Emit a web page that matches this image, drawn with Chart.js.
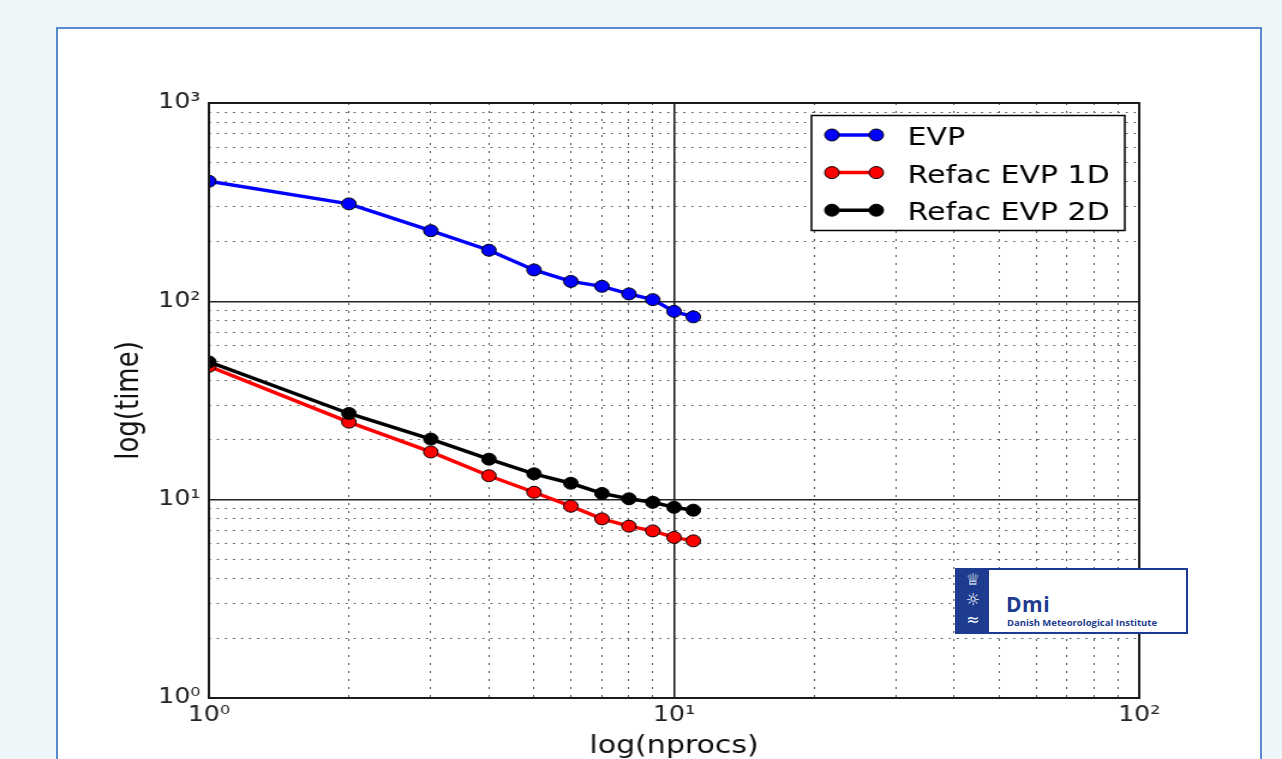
<!DOCTYPE html>
<html>
<head>
<meta charset="utf-8">
<title>EVP scaling</title>
<script src="https://cdn.jsdelivr.net/npm/chart.js@4.4.1/dist/chart.umd.min.js"></script>
<style>
    html, body { margin: 0; padding: 0; width: 1282px; height: 759px; overflow: hidden; background: #eff6f9; }
    #panel { position: absolute; left: 56px; top: 27px; width: 1206px; height: 760px; box-sizing: border-box; background: #fff; border: 2px solid #5a8bd0; }
    /* the original picture is stretched sideways, so the canvas is too */
    #wrap { position: absolute; left: 0; top: 0; width: 1068px; height: 759px; transform: scaleX(1.2004); transform-origin: 0 0; }
    #dmi { position: absolute; left: 955px; top: 568px; width: 233px; height: 66px; box-sizing: border-box; border: 2px solid #1d3c8f; background: #fff; }
    #dmi .strip { position: absolute; left: 0; top: 0; width: 32px; height: 100%; background: #1d3c8f; color: #fff; font-family: "DejaVu Sans"; text-align: center; }
    #dmi .strip span { display: block; font-size: 16px; line-height: 20px; }
    #dmi .big { position: absolute; left: 49px; top: 20px; color: #1d3c8f; font: bold 21px "Open Sans"; letter-spacing: 0.5px; }
    #dmi .small { position: absolute; left: 50px; top: 46px; color: #1d3c8f; font: bold 9.5px "Open Sans"; white-space: nowrap; }
</style>
</head>
<body>
<div id="panel"></div>
<div id="wrap"><canvas id="scalingChart" width="1068" height="759"></canvas></div>
<div id="dmi">
    <div class="strip"><span>♕</span><span>☼</span><span>≈</span></div>
    <div class="big">Dmi</div>
    <div class="small">Danish Meteorological Institute</div>
</div>
<script>
// data
const nprocs = [1, 2, 3, 4, 5, 6, 7, 8, 9, 10, 11];
const evp = [403, 310, 227, 181, 144, 126, 119, 109, 102, 89, 83.5];
const refac1d = [47, 24.6, 17.4, 13.2, 10.9, 9.27, 8.0, 7.35, 6.96, 6.45, 6.2];
const refac2d = [49.5, 27.2, 20.2, 16.0, 13.5, 12.1, 10.75, 10.1, 9.7, 9.15, 8.85];
const seriesNames = ['EVP', 'Refac EVP 1D', 'Refac EVP 2D'];

// tick positions (decades get a label)
const xTicks = [1, 2, 3, 4, 5, 6, 7, 8, 9, 10, 20, 30, 40, 50, 60, 70, 80, 90, 100];
const yTicks = [1, 2, 3, 4, 5, 6, 7, 8, 9, 10, 20, 30, 40, 50, 60, 70, 80, 90,
    100, 200, 300, 400, 500, 600, 700, 800, 900, 1000];
const superscripts = ['⁰', '¹', '²', '³'];

function isDecade(v) {
    const e = Math.log10(v);
    return Math.abs(e - Math.round(e)) < 1e-9;
}

function decadeLabel(v) {
    return isDecade(v) ? '10' + superscripts[Math.round(Math.log10(v))] : '';
}

function points(ys) {
    return nprocs.map((x, i) => ({ x: x, y: ys[i] }));
}

const tickFont = { family: 'DejaVu Sans', size: 21 };

function logAxis(tickValues, min, max) {
    return {
        type: 'logarithmic',
        min: min,
        max: max,
        afterBuildTicks: scale => { scale.ticks = tickValues.map(v => ({ value: v })); },
        ticks: { autoSkip: false, maxRotation: 0, color: '#222', font: tickFont, callback: v => decadeLabel(v) },
        grid: {
            drawTicks: false,
            color: c => (c.tick && isDecade(c.tick.value)) ? '#222' : '#555',
            lineWidth: c => (c.tick && isDecade(c.tick.value)) ? 1.6 : 1
        },
        border: { display: false }
    };
}

const xAxis = logAxis(xTicks, 1, 100);
xAxis.afterFit = scale => { scale.height = 61; };
xAxis.ticks.padding = 5;
xAxis.border.dash = c => (c.tick && !isDecade(c.tick.value)) ? [2, 6] : [];
xAxis.title = { display: true, text: 'log(nprocs)', color: '#111', font: { family: 'DejaVu Sans', size: 25, lineHeight: 1 }, padding: { top: 0, bottom: 0 } };

const yAxis = logAxis(yTicks, 1, 1000);
yAxis.afterFit = scale => { scale.width = 94; };
yAxis.ticks.padding = 7;
yAxis.border.dash = c => (c.tick && !isDecade(c.tick.value)) ? [1.7, 5] : [];
yAxis.title = { display: true, text: 'log(time)', color: '#111', font: { family: 'DejaVu Sans', size: 26 }, padding: { top: 13, bottom: 0 } };

// axes frame + matplotlib style legend inside the plot
const frameLegend = {
    id: 'frameLegend',
    afterDraw(chart) {
        const { ctx, chartArea: a } = chart;
        ctx.save();
        ctx.strokeStyle = '#1a1a1a';
        ctx.lineWidth = 2;
        ctx.strokeRect(a.left, a.top, a.right - a.left, a.bottom - a.top);

        ctx.fillStyle = '#fff';
        ctx.fillRect(676, 115.5, 261, 115);
        ctx.lineWidth = 1.5;
        ctx.strokeStyle = '#000';
        ctx.strokeRect(676, 115.5, 261, 115);

        chart.data.datasets.forEach((ds, i) => {
            const base = 145 + i * 37.6;
            const ly = base - 10;
            ctx.strokeStyle = ds.borderColor;
            ctx.lineWidth = 3.5;
            ctx.beginPath();
            ctx.moveTo(693, ly);
            ctx.lineTo(730, ly);
            ctx.stroke();
            [693, 730].forEach(mx => {
                ctx.beginPath();
                ctx.arc(mx, ly, 6, 0, Math.PI * 2);
                ctx.fillStyle = ds.pointBackgroundColor;
                ctx.fill();
                ctx.lineWidth = 1;
                ctx.strokeStyle = '#000';
                ctx.stroke();
            });
            ctx.fillStyle = '#000';
            ctx.font = '25px "DejaVu Sans"';
            ctx.textBaseline = 'alphabetic';
            ctx.fillText(ds.label, 756, base);
        });
        ctx.restore();
    }
};

function series(label, ys, color, order) {
    return {
        label: label,
        data: points(ys),
        borderColor: color,
        backgroundColor: color,
        pointBackgroundColor: color,
        pointBorderColor: '#000',
        pointBorderWidth: 1,
        pointRadius: 6,
        borderWidth: 3.5,
        fill: false,
        tension: 0,
        order: order
    };
}

new Chart(document.getElementById('scalingChart'), {
    type: 'line',
    data: {
        datasets: [
            series(seriesNames[0], evp, '#0000ff', 3),
            series(seriesNames[1], refac1d, '#ff0000', 2),
            series(seriesNames[2], refac2d, '#000000', 1)
        ]
    },
    options: {
        responsive: false,
        animation: false,
        devicePixelRatio: 1,
        layout: { padding: { left: 80, right: 119, top: 103, bottom: 0 } },
        plugins: { legend: { display: false }, tooltip: { enabled: false } },
        scales: { x: xAxis, y: yAxis }
    },
    plugins: [frameLegend]
});
</script>
</body>
</html>
